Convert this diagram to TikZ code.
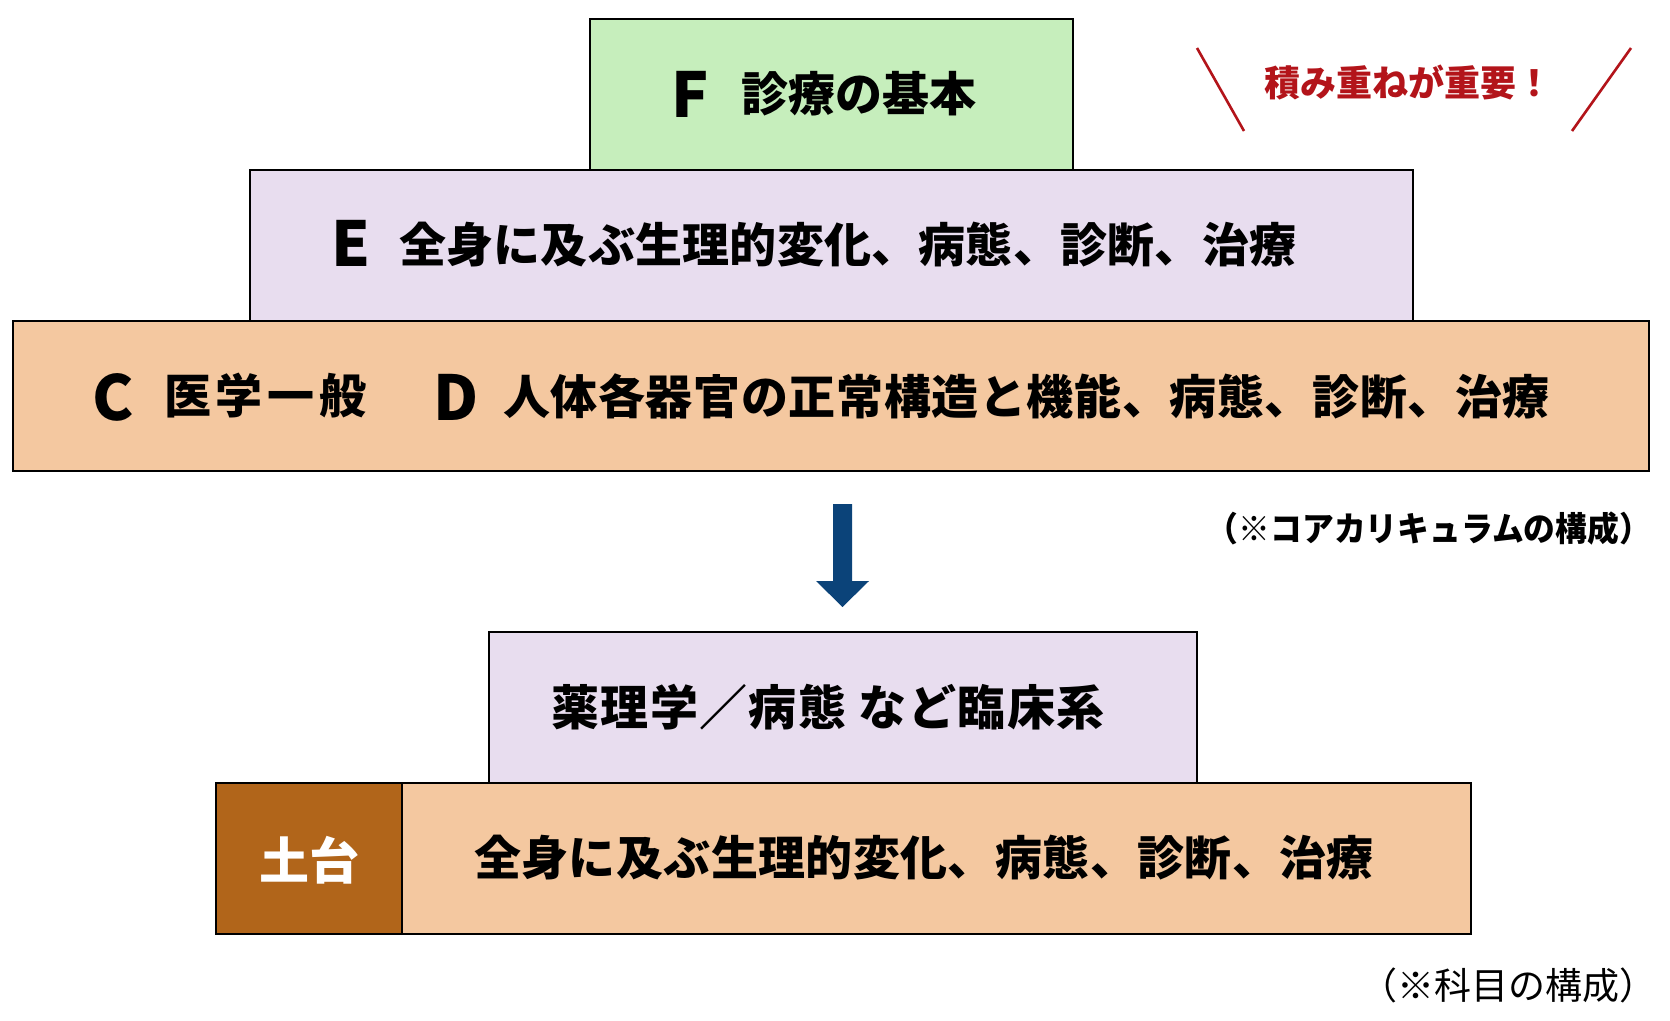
\documentclass[tikz,border=0pt]{standalone}
\usepackage{fontspec}
\newfontfamily\jp{Noto Sans CJK JP}
\definecolor{fgreen}{HTML}{C6EEBC}
\definecolor{lav}{HTML}{E8DDEF}
\definecolor{peach}{HTML}{F4C8A0}
\definecolor{brown}{HTML}{B1651A}
\definecolor{arrowblue}{HTML}{0B4379}
\definecolor{accent}{HTML}{B3141A}
\begin{document}
\begin{tikzpicture}[x=1pt,y=-1pt,
  box/.style={draw=black, line width=1.3pt, inner sep=0pt},
  txt/.style={inner sep=0pt, anchor=west, font=\jp\bfseries\fontsize{47}{56}\selectfont},
  letter/.style={inner sep=0pt, anchor=base west, font=\jp\bfseries\fontsize{62}{70}\selectfont},
  note/.style={inner sep=0pt, font=\jp\fontsize{34}{40}\selectfont},
  redline/.style={draw=accent, line width=2.6pt}]
\useasboundingbox (0,0) rectangle (1670,1020);
\fill[white] (0,0) rectangle (1670,1020);

% upper pyramid
\node[box, fill=fgreen, minimum width=483, minimum height=151] (Fbox) at (831.5,94.5) {};
\node[box, fill=lav, minimum width=1163, minimum height=151] (Ebox) at (831.5,245.5) {};
\node[box, fill=peach, minimum width=1636, minimum height=150] (CDbox) at (831,396) {};

\node[letter] (Fl) at (671,117) {F};
\node[txt] (Ft) at (741,94) {診療の基本};
\node[letter] (El) at (331,266) {E};
\node[txt] (Et) at (399,245) {\addfontfeature{LetterSpace=0.5}全身に及ぶ生理的変化、病態、診断、治療};
\node[letter] (Cl) at (92,420) {C};
\node[txt] (Ct) at (164,396) {\addfontfeature{LetterSpace=10}医学一般};
\node[letter] (Dl) at (433,420) {D};
\node[txt] (Dt) at (503,396) {\addfontfeature{LetterSpace=1.3}人体各器官の正常構造と機能、病態、診断、治療};

% emphasis
\draw[redline] (1197,48) -- (1244,131);
\draw[redline] (1631,48) -- (1572,131);
\node[inner sep=0pt, anchor=west, text=accent, font=\jp\bfseries\fontsize{36}{42}\selectfont] (imp) at (1264,83) {積み重ねが重要！};

\node[note, font=\jp\bfseries\fontsize{34}{40}\selectfont, xscale=0.935] (n1) at (1429,529) {（※コアカリキュラムの構成）};

% arrow
\fill[arrowblue] (833,504) -- (852,504) -- (852,581) -- (869,581) -- (842.5,607) -- (816,581) -- (833,581) -- cycle;

% lower pyramid
\node[box, fill=lav, minimum width=708, minimum height=151] (Pbox) at (843,707.5) {};
\node[box, fill=brown, minimum width=186, minimum height=151] (Dbox) at (309,858.5) {};
\node[box, fill=peach, minimum width=1069, minimum height=151] (Bbox) at (936.5,858.5) {};

\node[txt] (Pt) at (551,707) {\fontsize{48}{56}\selectfont\addfontfeature{LetterSpace=3}薬理学／病態 など臨床系};
\node[inner sep=0pt, text=white, font=\jp\bfseries\fontsize{50}{58}\selectfont] (Dt2) at (309,860) {土台};
\node[txt] (Bt) at (474,858) {\addfontfeature{LetterSpace=0.8}全身に及ぶ生理的変化、病態、診断、治療};

\node[note, font=\jp\fontsize{37}{44}\selectfont] (n2) at (1508,985) {（※科目の構成）};
\end{tikzpicture}
\end{document}
